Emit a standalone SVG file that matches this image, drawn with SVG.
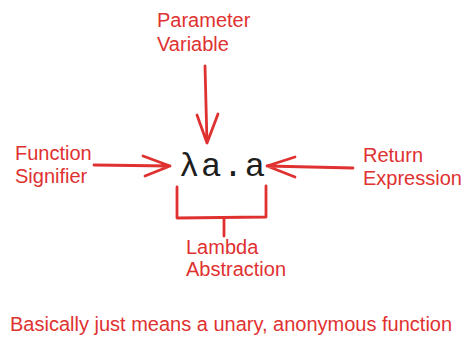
<svg xmlns="http://www.w3.org/2000/svg" width="471" height="346" viewBox="0 0 471 346">
  <style>
    .lbl { font-family: "Liberation Sans", Arial, sans-serif; font-size: 20px; fill: #e03131; }
    .ink { fill: none; stroke: #e03131; stroke-width: 2.8; stroke-linecap: round; stroke-linejoin: round; }
    .expr { font-family: "Liberation Mono", "DejaVu Sans Mono", monospace; font-size: 34px; letter-spacing: 1.5px; fill: #1e1e1e; }
  </style>
  <rect width="471" height="346" fill="#ffffff"/>

  <g id="expression">
    <text class="expr" x="179" y="176">λa.a</text>
  </g>

  <g id="parameter-variable">
    <text class="lbl" x="157" y="27">Parameter</text>
    <text class="lbl" x="157" y="51">Variable</text>
  </g>

  <g id="function-signifier">
    <text class="lbl" x="15" y="160">Function</text>
    <text class="lbl" x="15" y="183">Signifier</text>
  </g>

  <g id="return-expression">
    <text class="lbl" x="363" y="162">Return</text>
    <text class="lbl" x="363" y="185">Expression</text>
  </g>

  <g id="lambda-abstraction">
    <text class="lbl" x="186" y="254">Lambda</text>
    <text class="lbl" x="186" y="276">Abstraction</text>
  </g>

  <g id="summary">
    <text class="lbl" x="10" y="331">Basically just means a unary, anonymous function</text>
  </g>

  <g id="connectors">
    <!-- down arrow into the parameter -->
    <path class="ink" d="M205 66 L207 143 M197 115 L207 143 L218 114"/>
    <!-- right arrow into the lambda -->
    <path class="ink" d="M94 165 L170 166 M143 156 L170 166 L145 176"/>
    <!-- left arrow into the body -->
    <path class="ink" d="M353 168 L267 166 M295 157 L267 166 L295 177"/>
    <!-- bracket under the whole abstraction -->
    <path class="ink" d="M177 187 L177 218 L266 217 L266 186 M224 218 L224 236"/>
  </g>
</svg>
